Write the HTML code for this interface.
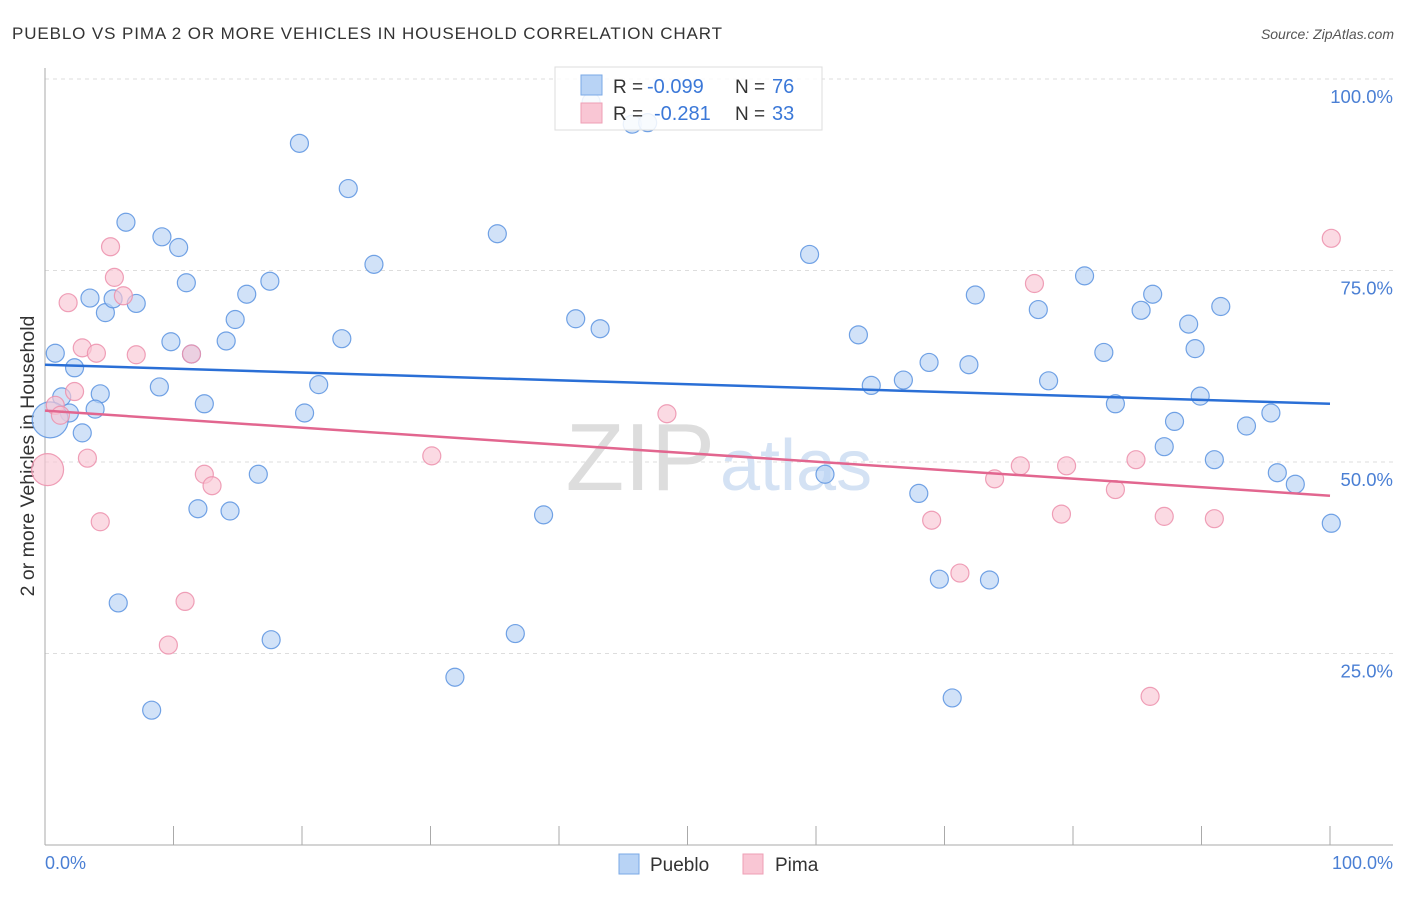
<!DOCTYPE html>
<html><head><meta charset="utf-8"><style>
body{margin:0;background:#fff;font-family:"Liberation Sans",sans-serif}
svg text{font-family:"Liberation Sans",sans-serif}
</style></head><body>
<svg width="1406" height="892" viewBox="0 0 1406 892">
<text x="12" y="39" font-size="17" fill="#333" textLength="710">PUEBLO VS PIMA 2 OR MORE VEHICLES IN HOUSEHOLD CORRELATION CHART</text>
<text x="1394" y="39" font-size="14" fill="#555" text-anchor="end" font-style="italic">Source: ZipAtlas.com</text>
<g id="grid"></g>
<text x="715" y="490" font-size="96" fill="#ddd" text-anchor="end" font-family="Liberation Serif">ZIP</text>
<text x="720" y="490" font-size="72" fill="#d4e2f4">atlas</text>
<line x1="45" y1="68" x2="45" y2="845" stroke="#aaa"/>
<line x1="45" y1="845" x2="1393" y2="845" stroke="#aaa"/>
<text transform="translate(34,456) rotate(-90)" font-size="19.5" fill="#333" text-anchor="middle">2 or more Vehicles in Household</text>
<text x="45" y="869" font-size="18" fill="#4a7fd4">0.0%</text>
<text x="1393" y="869" font-size="18" fill="#4a7fd4" text-anchor="end">100.0%</text>
<g id="pts"></g>
<g id="trend"></g>
<g>
<rect x="555" y="67" width="267" height="63" fill="#fff" fill-opacity="0.85" stroke="#ddd"/>
<rect x="581" y="75" width="21" height="20" fill="#b8d3f5" stroke="#7aa8e6"/>
<rect x="581" y="103" width="21" height="20" fill="#f9c6d4" stroke="#ee9fb5"/>
<text x="613" y="93" font-size="19" fill="#333">R =</text>
<text x="647" y="93" font-size="20" fill="#3b78d8">-0.099</text>
<text x="735" y="93" font-size="19" fill="#333">N =</text>
<text x="772" y="93" font-size="20" fill="#3b78d8">76</text>
<text x="613" y="120" font-size="19" fill="#333">R =</text>
<text x="654" y="120" font-size="20" fill="#3b78d8">-0.281</text>
<text x="735" y="120" font-size="19" fill="#333">N =</text>
<text x="772" y="120" font-size="20" fill="#3b78d8">33</text>
</g>
<g>
<rect x="619" y="854" width="20" height="20" fill="#b8d3f5" stroke="#7aa8e6"/>
<text x="650" y="871" font-size="19" fill="#333">Pueblo</text>
<rect x="743" y="854" width="20" height="20" fill="#f9c6d4" stroke="#ee9fb5"/>
<text x="775" y="871" font-size="19" fill="#333">Pima</text>
</g>
</svg>
<script>
const yTicks=[100,75,50,25];
const yTickLabels=["100.0%","75.0%","50.0%","25.0%"];
const xTicks=[0,10,20,30,40,50,60,70,80,90,100];
const puebloX=[0.8,2.3,1.3,1.9,2.9,4.3,3.9,3.5,4.7,5.3,7.1,6.3,9.1,10.4,11.0,9.8,8.9,11.4,12.4,11.9,14.4,14.1,14.8,15.7,17.5,16.6,5.7,8.3,17.6,19.8,23.6,25.6,23.1,21.3,20.2,35.2,41.3,43.2,38.8,36.6,31.9,45.7,46.9,59.5,63.3,64.3,66.8,68.8,71.9,72.4,77.3,78.1,80.9,82.4,83.3,85.3,86.2,87.9,87.1,89.0,89.5,89.9,91.0,91.5,93.5,95.4,95.9,97.3,100.1,60.7,68.0,69.6,73.5,70.6,0.4,42.5];
const puebloY=[64.2,62.3,58.5,56.4,53.8,58.9,56.9,71.4,69.5,71.3,70.7,81.3,79.4,78.0,73.4,65.7,59.8,64.1,57.6,43.9,43.6,65.8,68.6,71.9,73.6,48.4,31.6,17.6,26.8,91.6,85.7,75.8,66.1,60.1,56.4,79.8,68.7,67.4,43.1,27.6,21.9,94.1,94.3,77.1,66.6,60.0,60.7,63.0,62.7,71.8,69.9,60.6,74.3,64.3,57.6,69.8,71.9,55.3,52.0,68.0,64.8,58.6,50.3,70.3,54.7,56.4,48.6,47.1,42.0,48.4,45.9,34.7,34.6,19.2,55.5,97.0];
const puebloR=[9,9,9,9,9,9,9,9,9,9,9,9,9,9,9,9,9,9,9,9,9,9,9,9,9,9,9,9,9,9,9,9,9,9,9,9,9,9,9,9,9,9,9,9,9,9,9,9,9,9,9,9,9,9,9,9,9,9,9,9,9,9,9,9,9,9,9,9,9,9,9,9,9,9,18,9];
const pimaX=[0.2,0.8,1.2,1.8,2.3,2.9,4.0,5.1,5.4,6.1,7.1,3.3,4.3,11.4,12.4,13.0,10.9,9.6,30.1,48.4,69.0,71.2,73.9,75.9,77.0,79.1,79.5,83.3,84.9,87.1,91.0,86.0,100.1];
const pimaY=[49.0,57.4,56.1,70.8,59.2,64.9,64.2,78.1,74.1,71.7,64.0,50.5,42.2,64.1,48.4,46.9,31.8,26.1,50.8,56.3,42.4,35.5,47.8,49.5,73.3,43.2,49.5,46.4,50.3,42.9,42.6,19.4,79.2];
const pimaR=[16,9,9,9,9,9,9,9,9,9,9,9,9,9,9,9,9,9,9,9,9,9,9,9,9,9,9,9,9,9,9,9,9];
const puebloTrend=[62.7,57.6];
const pimaTrend=[56.7,45.6];
const X0=45,X1=1330,Y0=845,Y100=79;
const sx=v=>X0+(X1-X0)*v/100, sy=v=>Y0-(Y0-Y100)*v/100;
const NS="http://www.w3.org/2000/svg";
function mk(t,a){const e=document.createElementNS(NS,t);for(const k in a)e.setAttribute(k,a[k]);return e;}
const grid=document.getElementById('grid');
yTicks.forEach((v,i)=>{
 const l=mk('line',{x1:45,x2:1393,y1:sy(v),y2:sy(v),stroke:'#ddd','stroke-dasharray':'4,4'});
 
 
 grid.appendChild(l);
 const t=mk('text',{x:1393,y:sy(v)+24,'font-size':18.5,fill:'#4a7fd4','text-anchor':'end'});
 t.textContent=yTickLabels[i];
 
 
 grid.appendChild(t);
});
xTicks.forEach(v=>{
 const l=mk('line',{x1:sx(v),x2:sx(v),y1:826,y2:845,stroke:'#aaa'});
 
 
 grid.appendChild(l);
});
const pts=document.getElementById('pts');
puebloX.forEach((v,i)=>{
 const c=mk('circle',{cx:sx(v),cy:sy(puebloY[i]),r:puebloR[i],fill:'#b8d3f5','fill-opacity':0.65,stroke:'#5b93e0','stroke-opacity':0.85,'stroke-width':1.2});
 
 
 pts.appendChild(c);
});
pimaX.forEach((v,i)=>{
 const c=mk('circle',{cx:sx(v),cy:sy(pimaY[i]),r:pimaR[i],fill:'#f9c6d4','fill-opacity':0.65,stroke:'#ec8fab','stroke-opacity':0.85,'stroke-width':1.2});
 
 
 pts.appendChild(c);
});
const tr=document.getElementById('trend');
const l1=mk('line',{x1:sx(0),x2:sx(100),y1:sy(puebloTrend[0]),y2:sy(puebloTrend[1]),stroke:'#2a6fd6','stroke-width':2.5});


tr.appendChild(l1);
const l2=mk('line',{x1:sx(0),x2:sx(100),y1:sy(pimaTrend[0]),y2:sy(pimaTrend[1]),stroke:'#e2668f','stroke-width':2.5});


tr.appendChild(l2);
</script>
</body></html>
